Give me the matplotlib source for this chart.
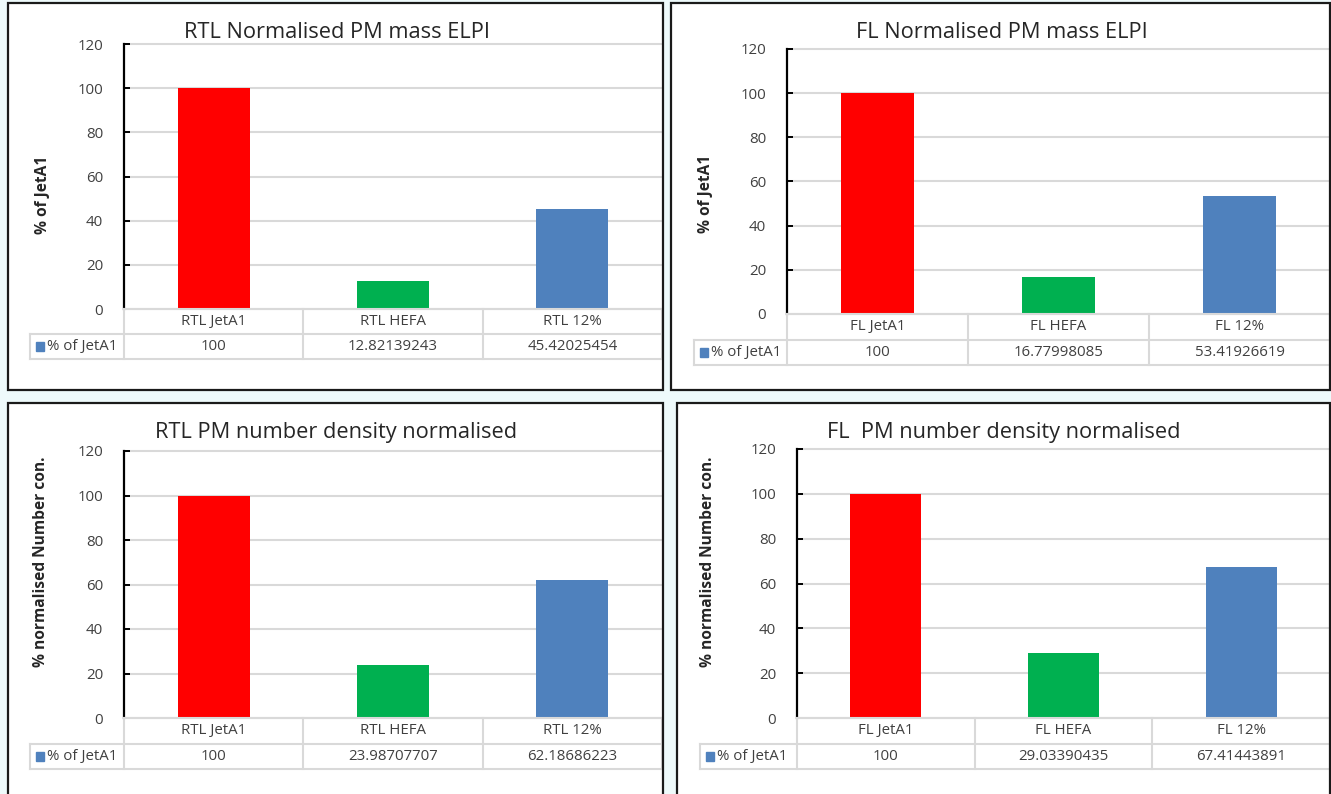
import matplotlib.pyplot as plt
from matplotlib.patches import Rectangle

plt.rcParams['font.family'] = ['Open Sans', 'DejaVu Sans']

W, H = 1331, 794

categories_rtl = ["RTL JetA1", "RTL HEFA", "RTL 12%"]
categories_fl = ["FL JetA1", "FL HEFA", "FL 12%"]
rtl_mass = [100, 12.82139243, 45.42025454]
fl_mass = [100, 16.77998085, 53.41926619]
rtl_number = [100, 23.98707707, 62.18686223]
fl_number = [100, 29.03390435, 67.41443891]
value_labels = {
    "rtl_mass": ["100", "12.82139243", "45.42025454"],
    "fl_mass": ["100", "16.77998085", "53.41926619"],
    "rtl_number": ["100", "23.98707707", "62.18686223"],
    "fl_number": ["100", "29.03390435", "67.41443891"],
}
yticks = [0, 20, 40, 60, 80, 100, 120]
bar_colors = ["#FF0000", "#00B050", "#4F81BD"]
series_name = "% of JetA1"
grid_c = "#D9D9D9"
text_c = "#404040"
small = 10.8


def fbox(x0, y0, x1, y1):
    # pixel box (top-left origin) -> figure fraction rect
    return [x0 / W, 1 - y1 / H, (x1 - x0) / W, (y1 - y0) / H]


def panel(fig, x0, y0, x1, y1):
    fig.add_artist(Rectangle((x0 / W, 1 - y1 / H), (x1 - x0) / W, (y1 - y0) / H,
                             transform=fig.transFigure, facecolor="white",
                             edgecolor="none", zorder=-5))
    fig.add_artist(Rectangle((x0 / W, 1 - y1 / H), (x1 - x0) / W, (y1 - y0) / H,
                             transform=fig.transFigure, fill=False,
                             edgecolor="#1a1a1a", lw=1.6, zorder=20))


def chart(fig, box, leg_x, row_h, cats, vals, labels, title, title_xy, ylabel, ylabel_xy):
    x0, y_top, x1, y_zero = box
    ax = fig.add_axes(fbox(x0, y_top, x1, y_zero))
    ax.set_facecolor("none")
    ax.bar(range(3), vals, width=0.4, color=bar_colors, zorder=3)
    ax.set_xlim(-0.5, 2.5)
    ax.set_ylim(0, 120)
    ax.set_yticks(yticks)
    ax.set_xticks([])
    for s in ["top", "right", "bottom"]:
        ax.spines[s].set_visible(False)
    ax.spines["left"].set_color("black")
    ax.spines["left"].set_linewidth(1.6)
    ax.tick_params(axis="y", direction="in", length=4, width=1.4, color="black",
                   labelsize=small, labelcolor=text_c, pad=15)
    ax.yaxis.grid(True, color=grid_c, lw=1.5, zorder=0)
    for gl in ax.get_ygridlines():
        gl.set_clip_on(False)

    # data table under the plot
    cw = (x1 - x0) / 3.0
    legw = (x0 - leg_x) / cw
    tax = fig.add_axes(fbox(leg_x, y_zero, x1, y_zero + 2 * row_h))
    tax.set_xlim(-0.5 - legw, 2.5)
    tax.set_ylim(2, 0)
    tax.axis("off")
    kw = dict(color=grid_c, lw=1.5, clip_on=False)
    tax.plot([-0.5, 2.5], [0, 0], **kw)
    tax.plot([-0.5 - legw, 2.5], [1, 1], **kw)
    tax.plot([-0.5 - legw, 2.5], [2, 2], **kw)
    tax.plot([-0.5 - legw, -0.5 - legw], [1, 2], **kw)
    for xv in [-0.5, 0.5, 1.5, 2.5]:
        tax.plot([xv, xv], [0, 2], **kw)
    for i in range(3):
        tax.text(i, 0.5, cats[i], ha="center", va="center", fontsize=small, color=text_c)
        tax.text(i, 1.5, labels[i], ha="center", va="center", fontsize=small, color=text_c)
    kx = -0.5 - legw + 6 / cw
    tax.add_patch(Rectangle((kx, 1.33), 8 / cw, 0.34, color=bar_colors[2], clip_on=False))
    tax.text(kx + 11 / cw, 1.5, series_name, ha="left", va="center", fontsize=small, color=text_c)

    fig.text(title_xy[0] / W, 1 - title_xy[1] / H, title, ha="center", va="center",
             fontsize=15.7, color="#262626")
    fig.text(ylabel_xy[0] / W, 1 - ylabel_xy[1] / H, ylabel, ha="center", va="center",
             rotation=90, fontsize=11.2, fontweight="bold", color="#262626")


fig = plt.figure(figsize=(W / 100, H / 100), dpi=100, facecolor="#EEFAFB")

panel(fig, 8, 3, 663, 390)
panel(fig, 671, 3, 1330, 390)
panel(fig, 8, 403, 663, 805)
panel(fig, 677, 403, 1330, 805)

chart(fig, (124, 44, 662, 309), 30, 25, categories_rtl, rtl_mass, value_labels["rtl_mass"],
      "RTL Normalised PM mass ELPI", (337, 32), "% of JetA1", (43, 195))
chart(fig, (787, 49, 1330, 314), 694, 25.5, categories_fl, fl_mass, value_labels["fl_mass"],
      "FL Normalised PM mass ELPI", (1002, 32), "% of JetA1", (706, 194))
chart(fig, (124, 451, 662, 718), 30, 25.5, categories_rtl, rtl_number, value_labels["rtl_number"],
      "RTL PM number density normalised", (336, 432), "% normalised Number con.", (41, 562))
chart(fig, (797, 449, 1330, 718), 700, 25.5, categories_fl, fl_number, value_labels["fl_number"],
      "FL  PM number density normalised", (1004, 432), "% normalised Number con.", (708, 562))

fig.savefig("out.png", dpi=100, facecolor=fig.get_facecolor())
